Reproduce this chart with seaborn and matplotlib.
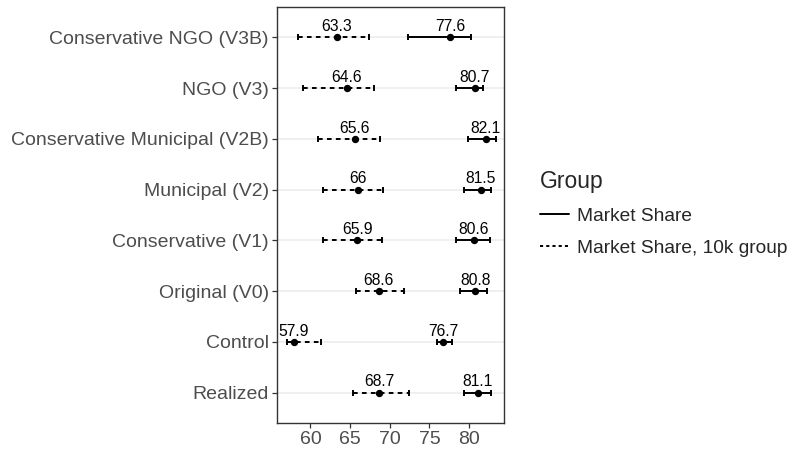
import matplotlib
matplotlib.use("Agg")
import matplotlib.pyplot as plt
from matplotlib.lines import Line2D
import seaborn as sns
import pandas as pd
import numpy as np

categories = ["Conservative NGO (V3B)", "NGO (V3)", "Conservative Municipal (V2B)",
              "Municipal (V2)", "Conservative (V1)", "Original (V0)", "Control", "Realized"]

ms_value = [77.6, 80.7, 82.1, 81.5, 80.6, 80.8, 76.7, 81.1]
ms_low = [72.3, 78.4, 79.9, 79.4, 78.4, 78.9, 75.9, 79.3]
ms_high = [80.2, 81.8, 83.4, 82.7, 82.6, 82.2, 77.9, 82.7]

k10_value = [63.3, 64.6, 65.6, 66.0, 65.9, 68.6, 57.9, 68.7]
k10_low = [58.4, 59.1, 60.9, 61.6, 61.6, 65.8, 57.1, 65.3]
k10_high = [67.4, 68.0, 68.8, 69.2, 69.0, 71.8, 61.3, 72.4]

groups = ["Market Share", "Market Share, 10k group"]
x_ticks = [60, 65, 70, 75, 80]

df = pd.DataFrame({
    "category": categories * 2,
    "value": ms_value + k10_value,
    "low": ms_low + k10_low,
    "high": ms_high + k10_high,
    "group": [groups[0]] * len(categories) + [groups[1]] * len(categories),
})

sns.set_theme(style="white")
plt.rcParams["font.family"] = ["Liberation Sans", "DejaVu Sans"]

fig = plt.figure(figsize=(7.95, 4.54), dpi=100)
ax = fig.add_axes([0.3484, 0.0683, 0.634 - 0.3484, 0.9846 - 0.0683])

ypos = {c: i for i, c in enumerate(categories)}
for c in categories:
    ax.axhline(ypos[c], color="#EBEBEB", lw=1.1, zorder=0)

dash = (0, (2.4, 2.2))
styles = {groups[0]: "-", groups[1]: dash}
for g, sub in df.groupby("group"):
    y = sub["category"].map(ypos).to_numpy()
    v = sub["value"].to_numpy()
    err = np.vstack([v - sub["low"].to_numpy(), sub["high"].to_numpy() - v])
    eb = ax.errorbar(v, y, xerr=err, fmt="none", ecolor="black", elinewidth=1.4,
                     capsize=2.5, capthick=1.4, zorder=2)
    eb[2][0].set_linestyle(styles[g])
    for xv, yv in zip(v, y):
        ax.annotate(f"{xv:g}", (xv, yv), xytext=(0, 4.5), textcoords="offset points",
                    ha="center", va="baseline", fontsize=11.3, color="black")

sns.stripplot(data=df, x="value", y="category", order=categories, jitter=False,
              color="black", size=5.3, linewidth=0, ax=ax, zorder=3)

ax.set_xlim(55.78, 84.4)
ax.set_ylim(len(categories) - 0.4, -0.6)
ax.set_xticks(x_ticks)
ax.set_xticklabels([str(t) for t in x_ticks])
ax.set_xlabel("")
ax.set_ylabel("")
ax.tick_params(axis="both", which="major", length=3.5, width=0.9, color="#333333",
               labelcolor="#4D4D4D", labelsize=14, pad=2.5, bottom=True, left=True)
for s in ax.spines.values():
    s.set_color("#333333")
    s.set_linewidth(1.0)
    s.set_visible(True)
ax.grid(False)

handles = [Line2D([0], [0], color="black", lw=1.4, linestyle="-"),
           Line2D([0], [0], color="black", lw=1.4, linestyle=(0, (1.6, 1.6)))]
leg = fig.legend(handles, groups, title="Group", loc="upper left",
                 bbox_to_anchor=(540 / 795, 1 - 170 / 454), frameon=False, fontsize=13.8,
                 title_fontsize=16.5, handlelength=1.5, labelspacing=0.75,
                 handletextpad=0.42, borderpad=0, borderaxespad=0)
leg._legend_box.align = "left"

fig.savefig("out.png", dpi=100)
